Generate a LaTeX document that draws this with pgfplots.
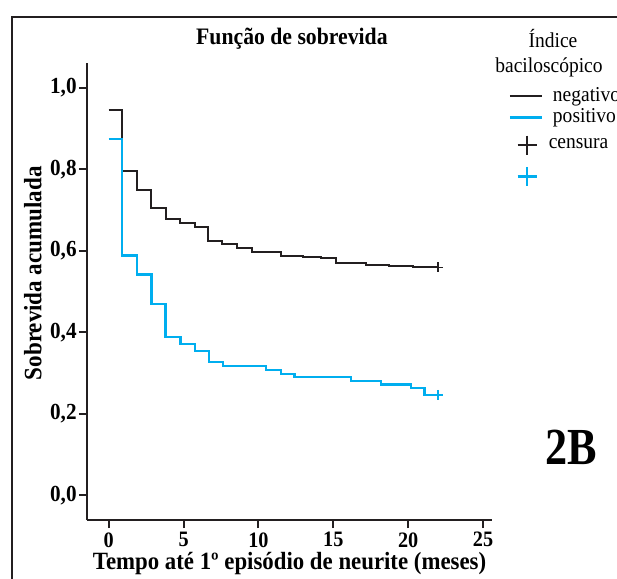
\documentclass[border=0pt]{standalone}
\usepackage{fontspec}
\setmainfont[FakeStretch=0.92]{Liberation Serif}
\newfontfamily\condfont[FakeStretch=0.85]{Liberation Serif}
\usepackage{pgfplots}
\pgfplotsset{compat=1.18}
\definecolor{cyanb}{RGB}{0,174,239}
\definecolor{ink}{RGB}{35,31,32}
\begin{document}
\begin{tikzpicture}
\path[use as bounding box] (0,0) rectangle (308.5pt,289.5pt);
\draw[ink, line width=1.4pt] (6pt,-2pt) -- (6pt,281pt) -- (312pt,281pt);
\begin{axis}[
  at={(43.5pt,29.5pt)}, anchor=south west,
  scale only axis, width=202.5pt, height=228.5pt,
  xmin=-1.45, xmax=25.6, ymin=-0.061, ymax=1.061,
  axis x line=bottom, axis y line=left,
  axis line style={-, line width=1pt, ink},
  tick style={line width=1pt, ink},
  tick align=outside, major tick length=4pt,
  xtick={0,5,...,25}, ytick={0,0.2,0.4,0.6,0.8,1.0},
  /pgf/number format/assume math mode=true,
  yticklabel style={inner sep=1pt, font=\bfseries\fontsize{11.5}{12}\selectfont, /pgf/number format/.cd, fixed, fixed zerofill, precision=1, use comma},
  xticklabel style={inner sep=2pt, font=\bfseries\fontsize{11}{12}\selectfont},
  title={Função de sobrevida},
  title style={at={(axis description cs:0.506,1)}, anchor=base, yshift=3pt, font=\bfseries\fontsize{11.8}{13}\selectfont},
  xlabel={Tempo até 1º episódio de neurite (meses)},
  xlabel style={at={(axis description cs:0.5,0)}, anchor=base, yshift=-24.5pt, inner sep=0pt, font=\bfseries\fontsize{12.4}{14}\selectfont},
  ylabel={Sobrevida acumulada},
  ylabel style={at={(axis description cs:0,0.54)}, anchor=south, yshift=22.5pt, inner sep=0pt, font=\bfseries\fontsize{12.5}{14}\selectfont},
  legend style={at={(1.04,0.951)}, anchor=north west, draw=none, fill=none, font=\fontsize{10.6}{12}\selectfont, row sep=0pt, inner sep=0pt, nodes={inner sep=1pt}},
  legend cell align=left,
  legend image code/.code={\draw[#1] (0pt,0pt) -- (16pt,0pt); \path (20pt,0pt);},
]
\addplot[const plot, ink, line width=1pt] coordinates {
(0,0.945) (0.9,0.795) (1.9,0.749) (2.85,0.705) (3.8,0.679) (4.75,0.668) (5.75,0.658) (6.65,0.624) (7.6,0.617) (8.6,0.608) (9.55,0.596) (11.5,0.586) (13.0,0.584) (14.2,0.582) (15.2,0.571) (17.2,0.565) (18.7,0.563) (20.3,0.561) (22,0.559)};
\addlegendentry{negativo}
\addplot[const plot, cyanb, line width=1.2pt] coordinates {
(0,0.874) (0.9,0.588) (1.9,0.542) (2.85,0.470) (3.8,0.389) (4.8,0.371) (5.75,0.354) (6.7,0.327) (7.65,0.317) (10.5,0.307) (11.5,0.298) (12.4,0.290) (16.2,0.281) (18.2,0.272) (20.2,0.263) (21.1,0.246) (22,0.246)};
\addlegendentry{positivo}
\addplot[only marks, mark=+, mark size=2.5pt, ink, line width=0.9pt, forget plot] coordinates {(22,0.559)};
\addplot[only marks, mark=+, mark size=2.5pt, cyanb, line width=0.9pt, forget plot] coordinates {(22,0.246)};
\end{axis}
\begin{axis}[
  hide axis, at={(43.5pt,29.5pt)}, anchor=south west,
  scale only axis, width=202.5pt, height=228.5pt,
  xmin=0, xmax=1, ymin=0, ymax=1,
  legend style={at={(1.062,0.842)}, anchor=north west, draw=none, fill=none, font=\fontsize{10.6}{12}\selectfont, row sep=6pt, inner sep=0pt, nodes={inner sep=1pt}},
  legend cell align=left,
  legend image code/.code={\draw[#1] plot coordinates {(4.8pt,0pt)}; \path (14.1pt,0pt);},
]
\addlegendimage{only marks, mark=+, mark size=4.8pt, ink, line width=1.1pt}
\addlegendentry{censura}
\addlegendimage{only marks, mark=+, mark size=4.8pt, cyanb, line width=1.1pt}
\addlegendentry{}
\end{axis}
\node[anchor=base, font=\fontsize{10.6}{12}\selectfont] at (276.5pt,265.5pt) {Índice};
\node[anchor=base, font=\fontsize{10.6}{12}\selectfont] at (274.5pt,253pt) {baciloscópico};
\node[anchor=base, font=\condfont\bfseries\fontsize{26}{28}\selectfont] at (285.5pt,57pt) {2B};
\end{tikzpicture}
\end{document}
